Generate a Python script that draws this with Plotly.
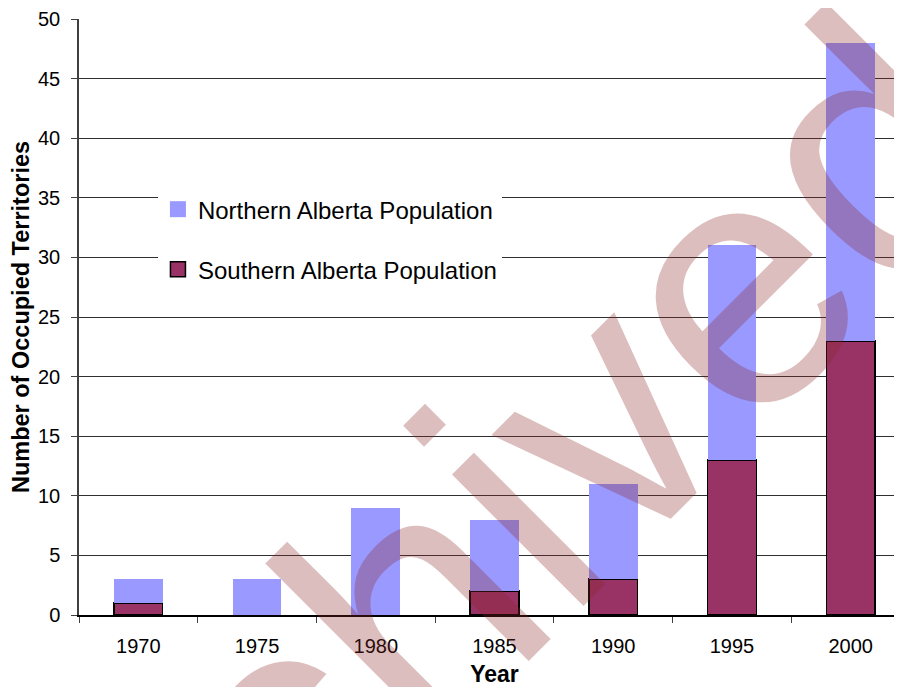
import plotly.graph_objects as go

years = ["1970", "1975", "1980", "1985", "1990", "1995", "2000"]
southern = [1, 0, 0, 2, 3, 13, 23]
northern = [2, 3, 9, 6, 8, 18, 25]  # stacked on top of southern (totals 3,3,9,8,11,31,48)
y_ticks = [0, 5, 10, 15, 20, 25, 30, 35, 40, 45, 50]

FONT = "Liberation Sans, Arial, sans-serif"
S_COLOR = "#993366"
N_COLOR = "#9999FF"

fig = go.Figure()
fig.add_trace(go.Bar(
    x=years, y=southern, name="Southern Alberta Population",
    marker=dict(color=S_COLOR, line=dict(color="#000000", width=1.5)),
    showlegend=False,
))
fig.add_trace(go.Bar(
    x=years, y=northern, name="Northern Alberta Population",
    marker=dict(color=N_COLOR, line=dict(color=N_COLOR, width=0)),
    showlegend=False,
))
# legend entries (square keys like the reference)
fig.add_trace(go.Scatter(
    x=[None], y=[None], mode="markers", name="Northern Alberta Population",
    marker=dict(symbol="square", size=16, color=N_COLOR, line=dict(width=0)),
    legendgroup="n", legendrank=1,
))
fig.add_trace(go.Scatter(
    x=[None], y=[None], mode="markers", name="Southern Alberta Population",
    marker=dict(symbol="square", size=15, color=S_COLOR, line=dict(color="#000000", width=1.5)),
    legendgroup="s", legendrank=2,
))

fig.update_layout(
    width=902, height=687,
    margin=dict(l=71, r=0, t=11, b=80, autoexpand=False),
    barmode="stack", bargap=0.59,
    paper_bgcolor="white", plot_bgcolor="white",
    font=dict(family=FONT, color="#000000", size=20),
    showlegend=True,
    legend=dict(
        x=0.095, y=0.718, xanchor="left", yanchor="top",
        bgcolor="white", borderwidth=0,
        font=dict(size=24, family=FONT),
        traceorder="grouped", tracegroupgap=26,
    ),
    xaxis=dict(
        type="category", tickson="boundaries", ticks="outside", ticklen=6,
        tickcolor="#404040", showline=True, linecolor="#000000", linewidth=1.5,
        showgrid=False, tickfont=dict(size=20), ticklabelstandoff=12,
        title=dict(text="<b>Year</b>", font=dict(size=23), standoff=10),
    ),
    yaxis=dict(
        range=[0, 50], tickvals=y_ticks, ticks="outside", ticklen=6,
        tickcolor="#404040", showline=True, linecolor="#404040", linewidth=1.5,
        showgrid=True, gridcolor="#303030", gridwidth=1, zeroline=False,
        tickfont=dict(size=20), ticklabelstandoff=7,
        title=dict(text="<b>Number of Occupied Territories</b>", font=dict(size=23.5), standoff=4),
    ),
    shapes=[dict(
        type="rect", xref="paper", yref="paper", x0=0.103, x1=0.578, y0=0.545, y1=0.715,
        fillcolor="white", line=dict(width=0), layer="between",
    )],
    annotations=[dict(
        text="Archived", xref="paper", yref="paper", x=0.450, y=0.086,
        xanchor="center", yanchor="middle",
        showarrow=False, textangle=-45,
        font=dict(family="Liberation Sans, Arial, sans-serif", size=352, color="rgba(140,40,40,0.3)"),
    )],
)

fig.write_html("out.html")
